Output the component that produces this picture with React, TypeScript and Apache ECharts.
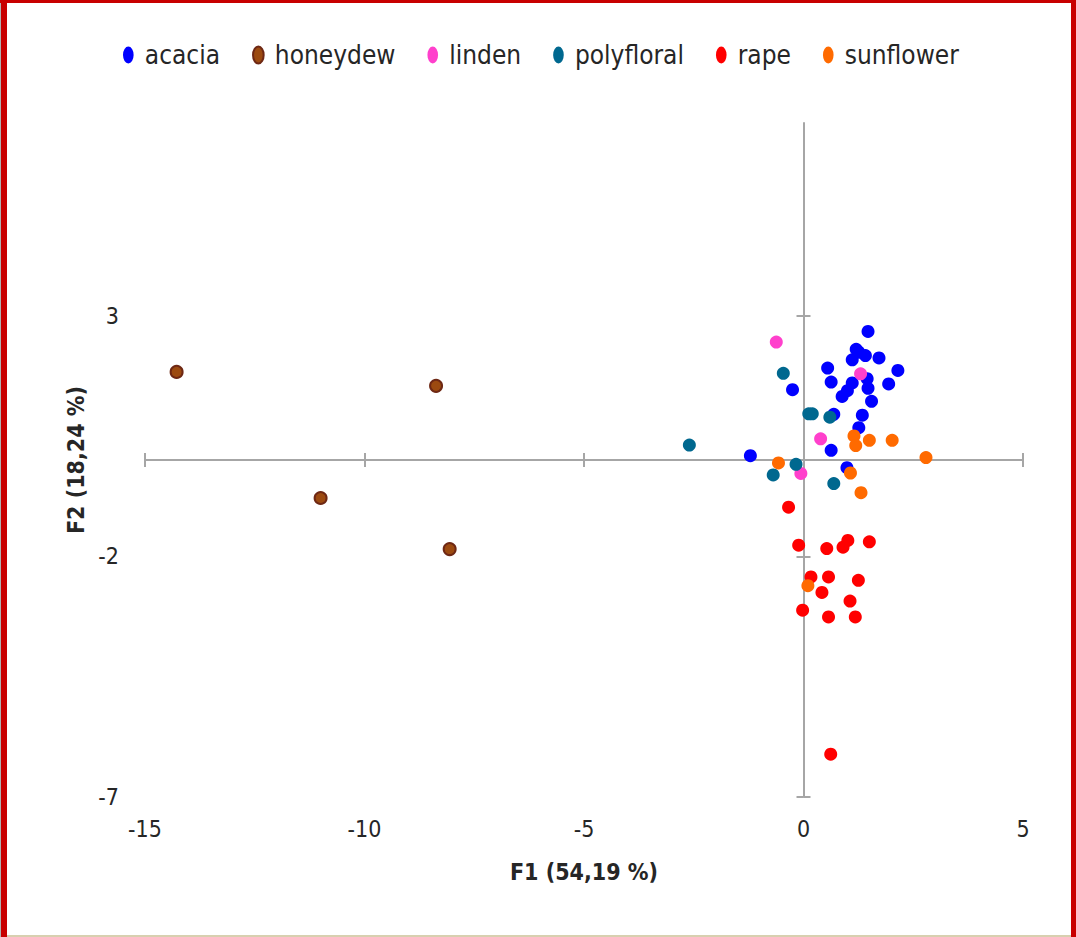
import React, { useEffect, useRef } from "react";
import * as echarts from "echarts";

const seriesNames = ["acacia", "honeydew", "linden", "polyfloral", "rape", "sunflower"];

const acacia: number[][] = [
  [1.47, 2.67], [1.26, 2.24], [1.41, 2.17], [1.11, 2.08], [1.72, 2.12], [1.2, 2.3],
  [0.55, 1.91], [2.15, 1.86], [0.63, 1.62], [1.45, 1.69], [1.94, 1.58], [1.11, 1.6],
  [1.47, 1.49], [1.0, 1.44], [0.88, 1.32], [1.55, 1.22], [1.34, 0.93], [0.69, 0.95],
  [1.26, 0.67], [0.63, 0.2], [-1.21, 0.09], [0.99, -0.16], [-0.25, 1.46],
];
const honeydew: number[][] = [
  [-14.28, 1.83], [-8.37, 1.54], [-11.0, -0.79], [-8.06, -1.85],
];
const linden: number[][] = [
  [-0.62, 2.45], [1.3, 1.79], [0.39, 0.44], [-0.06, -0.28],
];
const polyfloral: number[][] = [
  [-2.6, 0.31], [-0.46, 1.8], [0.12, 0.96], [0.2, 0.96], [0.6, 0.89], [-0.17, -0.09],
  [-0.69, -0.31], [0.69, -0.49],
];
const rape: number[][] = [
  [-0.34, -0.98], [-0.11, -1.77], [0.53, -1.84], [0.9, -1.81], [1.01, -1.67], [1.5, -1.7],
  [0.17, -2.43], [0.57, -2.43], [1.25, -2.5], [0.42, -2.75], [1.06, -2.93], [-0.02, -3.12],
  [0.57, -3.26], [1.18, -3.26], [0.62, -6.11],
];
const sunflower: number[][] = [
  [1.15, 0.5], [1.19, 0.3], [1.5, 0.41], [2.02, 0.41], [2.79, 0.05], [-0.57, -0.06],
  [1.07, -0.27], [1.31, -0.68], [0.1, -2.61],
];

const xTicks = [-15, -10, -5, 0, 5];
const yTicks = [-7, -2, 3];

const colors = ["#0000FF", "#9C4A10", "#FF40CC", "#00688F", "#FF0000", "#FF6A00"];
const allData = [acacia, honeydew, linden, polyfloral, rape, sunflower];

const FONT = "'DejaVu Sans Condensed', 'Liberation Sans', sans-serif";
const AXIS_COLOR = "#A6A6A6";
const ELLIPSE = "path://M5,0A5,8,0,1,1,5,16A5,8,0,1,1,5,0Z";

export default function App() {
  const ref = useRef<HTMLDivElement>(null);
  useEffect(() => {
    if (!ref.current) return;
    const chart = echarts.init(ref.current, undefined, { renderer: "svg" });
    const line = { color: AXIS_COLOR, width: 2 };
    const baseX = { type: "value" as const, min: -15, max: 5, interval: 5, gridIndex: 0, splitLine: { show: false } };
    const baseY = { type: "value" as const, min: -7, max: 7, interval: 5, gridIndex: 0, splitLine: { show: false } };
    const series = seriesNames.map((name, i) => ({
      name,
      type: "scatter",
      xAxisIndex: 0,
      yAxisIndex: 0,
      data: allData[i],
      symbol: "circle",
      symbolSize: name === "honeydew" ? 12 : 13,
      itemStyle:
        name === "honeydew"
          ? { color: colors[i], borderColor: "#6E2814", borderWidth: 2, opacity: 1 }
          : { color: colors[i], opacity: 1 },
      z: 3,
    }));
    chart.setOption({
      animation: false,
      backgroundColor: "#ffffff",
      color: colors,
      grid: { left: 145, right: 53, top: 123, bottom: 140, containLabel: false },
      legend: {
        top: 37,
        left: 118,
        itemWidth: 11,
        itemHeight: 17,
        itemGap: 32,
        icon: ELLIPSE,
        data: seriesNames,
        textStyle: { fontFamily: FONT, fontSize: 26, color: "#262626", padding: [0, 0, 0, 6] },
      },
      xAxis: [
        {
          ...baseX,
          position: "bottom",
          axisLine: { show: true, onZero: true, onZeroAxisIndex: 0, lineStyle: line },
          axisTick: { show: true, inside: true, length: 7, lineStyle: line, customValues: xTicks },
          axisLabel: { show: false },
        },
        {
          ...baseX,
          position: "bottom",
          axisLine: { show: false, onZero: true, onZeroAxisIndex: 0 },
          axisTick: { show: true, inside: false, length: 7, lineStyle: line, customValues: xTicks },
          axisLabel: { show: false },
        },
        {
          ...baseX,
          position: "bottom",
          axisLine: { show: false, onZero: false },
          axisTick: { show: false },
          axisLabel: {
            show: true,
            margin: 20,
            customValues: xTicks,
            fontFamily: FONT,
            fontSize: 23,
            color: "#262626",
          },
          name: "F1 (54,19 %)",
          nameLocation: "middle",
          nameGap: 63,
          nameTextStyle: { fontFamily: FONT, fontSize: 23, fontWeight: "bold", color: "#262626" },
        },
      ],
      yAxis: [
        {
          ...baseY,
          position: "left",
          axisLine: { show: true, onZero: true, onZeroAxisIndex: 0, lineStyle: line },
          axisTick: { show: true, inside: true, length: 7, lineStyle: line, customValues: yTicks },
          axisLabel: { show: false },
        },
        {
          ...baseY,
          position: "left",
          axisLine: { show: false, onZero: true, onZeroAxisIndex: 0 },
          axisTick: { show: true, inside: false, length: 7, lineStyle: line, customValues: yTicks },
          axisLabel: { show: false },
        },
        {
          ...baseY,
          position: "left",
          axisLine: { show: false, onZero: false },
          axisTick: { show: false },
          axisLabel: {
            show: true,
            margin: 26,
            customValues: yTicks,
            fontFamily: FONT,
            fontSize: 23,
            color: "#262626",
          },
          name: "F2 (18,24 %)",
          nameLocation: "middle",
          nameRotate: 90,
          nameGap: 57,
          nameTextStyle: { fontFamily: FONT, fontSize: 23, fontWeight: "bold", color: "#262626" },
        },
      ],
      graphic: [
        { type: "rect", shape: { x: 0, y: 0, width: 1, height: 937 }, style: { fill: "#B0B0B0" }, silent: true },
        { type: "rect", shape: { x: 1, y: 0, width: 6, height: 937 }, style: { fill: "#C80000" }, silent: true },
        { type: "rect", shape: { x: 0, y: 0, width: 1076, height: 3 }, style: { fill: "#C80000" }, silent: true },
        { type: "rect", shape: { x: 1071, y: 0, width: 5, height: 937 }, style: { fill: "#C80000" }, silent: true },
        { type: "rect", shape: { x: 7, y: 935, width: 1064, height: 2 }, style: { fill: "#D8D0B0" }, silent: true },
      ],
      series,
    });
    return () => chart.dispose();
  }, []);
  return (
    <div
      ref={ref}
      style={{ position: "fixed", left: 0, top: 0, width: 1076, height: 937, background: "#fff" }}
    />
  );
}
